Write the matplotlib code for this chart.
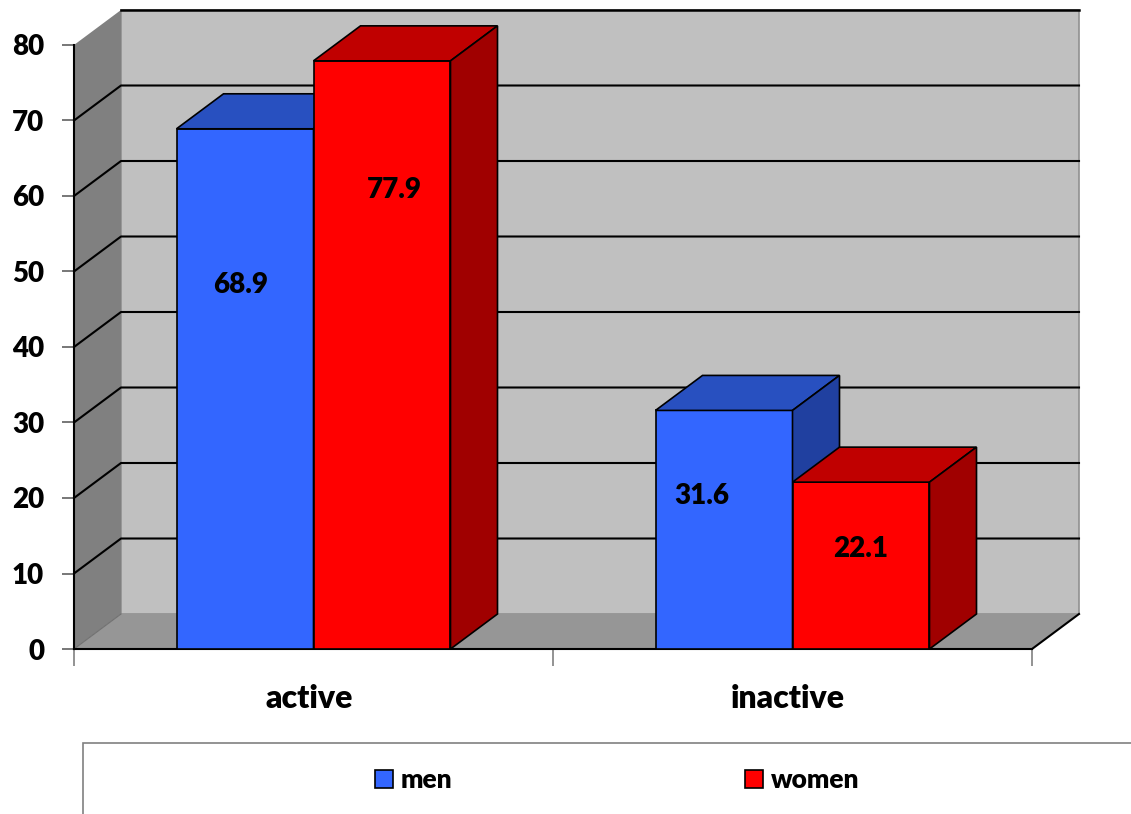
import matplotlib
matplotlib.use('Agg')
import matplotlib.pyplot as plt
from matplotlib.patches import Polygon, Rectangle

# data
categories = ['active', 'inactive']
groups = ['men', 'women']
men = [68.9, 31.6]
women = [77.9, 22.1]

# where each value label sits: (shift in bar widths, fraction of bar height)
men_label_pos = [(-0.03, 0.70), (-0.16, 0.64)]
women_label_pos = [(0.09, 0.78), (0.0, 0.60)]

# colours: front, top, side
men_colors = ('#3366FF', '#2850C0', '#2040A0')
women_colors = ('#FF0000', '#C00000', '#A00000')

plt.rcParams['font.family'] = ['Lato', 'DejaVu Sans']
plt.rcParams['font.weight'] = 'heavy'

W, H = 1131, 814
fig = plt.figure(figsize=(W / 100, H / 100), dpi=100)
ax = fig.add_axes([74 / W, 1 - 649 / H, 958 / W, 604 / H])
ax.set_xlim(0, 2)
ax.set_ylim(0, 80)

# depth of the fake 3d box, in data units
dx = 47 / 479
dy = 35 / 7.55
w = 0.286

# walls and floor
back = Polygon([(dx, dy), (2 + dx, dy), (2 + dx, 80 + dy), (dx, 80 + dy)],
               fc='#C0C0C0', ec='#909090', lw=1.2, clip_on=False, zorder=0)
left = Polygon([(0, 0), (dx, dy), (dx, 80 + dy), (0, 80)],
               fc='#808080', ec='none', clip_on=False, zorder=0)
floor = Polygon([(0, 0), (2, 0), (2 + dx, dy), (dx, dy)],
                fc='#969696', ec='none', clip_on=False, zorder=0)
for p in (back, left, floor):
    ax.add_patch(p)
ax.plot([0, dx], [0, dy], color='#707070', lw=0.8, clip_on=False, zorder=1)
ax.plot([2, 2 + dx], [0, dy], color='black', lw=1.5, clip_on=False, zorder=1)

# gridlines run along the left wall and across the back
for v in range(10, 80, 10):
    ax.plot([0, dx, 2 + dx], [v, v + dy, v + dy], color='black', lw=1.5,
            clip_on=False, zorder=1)
ax.plot([dx, 2 + dx], [80 + dy, 80 + dy], color='black', lw=1.8,
        clip_on=False, zorder=1)


def add_box(rect, cols, z):
    x0 = rect.get_x()
    x1 = x0 + rect.get_width()
    h = rect.get_height()
    top = Polygon([(x0, h), (x1, h), (x1 + dx, h + dy), (x0 + dx, h + dy)],
                  fc=cols[1], ec='black', lw=1.2, zorder=z, clip_on=False)
    side = Polygon([(x1, 0), (x1 + dx, dy), (x1 + dx, h + dy), (x1, h)],
                   fc=cols[2], ec='black', lw=1.2, zorder=z, clip_on=False)
    ax.add_patch(top)
    ax.add_patch(side)


xs = [0.5, 1.5]
men_bars = ax.bar([x - w / 2 for x in xs], men, w, color=men_colors[0],
                  ec='black', lw=1.2, label=groups[0], clip_on=False)
women_bars = ax.bar([x + w / 2 for x in xs], women, w, color=women_colors[0],
                    ec='black', lw=1.2, label=groups[1], clip_on=False)

z = 3
for i in range(len(categories)):
    for bars, cols, vals, pos in ((men_bars, men_colors, men, men_label_pos),
                                  (women_bars, women_colors, women, women_label_pos)):
        r = bars[i]
        r.set_zorder(z)
        add_box(r, cols, z)
        ax.text(r.get_x() + r.get_width() * (0.5 + pos[i][0]), vals[i] * pos[i][1],
                f'{vals[i]:.1f}', ha='center', va='center', fontsize=20,
                fontweight='heavy', zorder=z + 0.5)
        z += 1

# axes
for s in ('top', 'right'):
    ax.spines[s].set_visible(False)
ax.spines['left'].set_linewidth(1.5)
ax.spines['bottom'].set_linewidth(1.5)
ax.spines['left'].set_zorder(2)
ax.spines['bottom'].set_zorder(2)
ax.set_yticks(range(0, 81, 10))
ax.tick_params(axis='y', length=9, width=1.2, color='#606060', pad=12.5,
               labelsize=20)
ax.set_xticks([0, 1, 2])
ax.set_xticklabels([])
ax.tick_params(axis='x', which='major', length=12, width=1.2, color='#808080')
ax.set_xticks([x - 0.01 for x in xs], minor=True)
ax.set_xticklabels(categories, minor=True, fontsize=23, fontweight='heavy')
ax.tick_params(axis='x', which='minor', length=0, pad=25)

# legend with its open box
fig.add_artist(Rectangle((83 / W, -0.1), 1.2, 0.1 + 1 - 743 / H, fill=False,
                         ec='#808080', lw=1.2, transform=fig.transFigure))
fig.legend(handles=[men_bars, women_bars], labels=groups, loc='center left',
           bbox_to_anchor=(375 / W, 1 - 780 / H), ncol=2, frameon=False,
           fontsize=19, handlelength=0.68, handleheight=0.68,
           handletextpad=0.3, columnspacing=11.1, borderpad=0,
           borderaxespad=0)

fig.savefig('out.png', dpi=100)
